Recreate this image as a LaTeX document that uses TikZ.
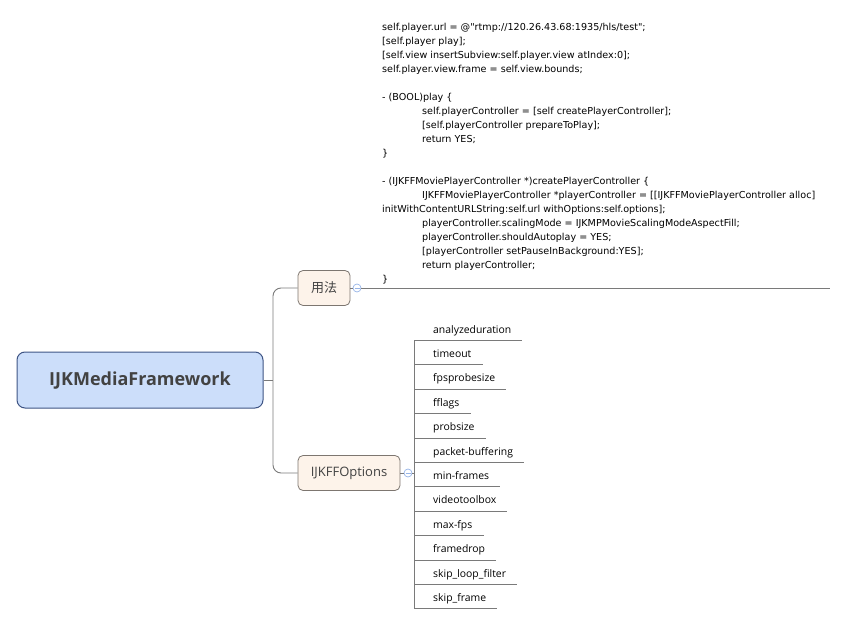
\documentclass[tikz,border=0pt]{standalone}
\usepackage{fontspec}
\setmainfont{Open Sans}
\newfontfamily\cjkfont{Noto Sans CJK SC}
\newfontfamily\notefont{DejaVu Sans}
\usetikzlibrary{positioning}

\definecolor{rootfill}{RGB}{204,222,250}
\definecolor{rootline}{RGB}{62,84,132}
\definecolor{topicfill}{RGB}{253,243,234}
\definecolor{topicline}{RGB}{125,118,112}
\definecolor{textgray}{RGB}{66,66,66}
\definecolor{linkgray}{RGB}{122,122,122}
\definecolor{foldblue}{RGB}{150,180,232}

\begin{document}
\begin{tikzpicture}[x=1pt,y=-1pt,node distance=4pt,
    link/.style={draw=linkgray,line width=0.9pt},
    root node/.style={rectangle,rounded corners=8pt,draw=rootline,line width=1pt,fill=rootfill,
      minimum width=246pt,minimum height=56pt,text=textgray,font=\fontsize{18}{21}\selectfont\bfseries},
    topic node/.style={rectangle,rounded corners=5pt,draw=topicline,line width=0.8pt,fill=topicfill,
      minimum height=35pt,inner xsep=12pt,text=textgray,font=\fontsize{13}{15}\selectfont},
    fold/.style={circle,draw=foldblue,line width=0.7pt,fill=white,minimum size=8pt,inner sep=0pt},
    leaf/.style={inner sep=0pt,minimum height=20pt,text depth=2pt,text=black,
      font=\fontsize{10.4}{12}\selectfont,
      execute at begin node=\hspace*{19pt},execute at end node=\hspace*{11pt}},
    note/.style={inner sep=0pt,align=left,anchor=north west,text=black,font=\notefont\fontsize{9.6}{14}\selectfont}]
  \useasboundingbox (0,0) rectangle (845,620);

  \node[root node,text depth=3pt] (root) at (140,380) {IJKMediaFramework};
  \node[topic node,minimum width=52pt] (usage) at (324,288) {\cjkfont 用法};
  \node[topic node,minimum width=102pt] (opts) at (349,473) {IJKFFOptions};
  \node[fold] (f1) at (357,288) {};
  \node[fold] (f2) at (408,473) {};
  \coordinate (hub) at (273,380);
  \coordinate (noteend) at (830,288);

  % code note of usage
  \node[note] (code) at (382,23) {%
self.player.url = @"rtmp://120.26.43.68:1935/hls/test";\\{}%
[self.player play];\\{}%
[self.view insertSubview:self.player.view atIndex:0];\\
self.player.view.frame = self.view.bounds;\\
\mbox{}\\
- (BOOL)play \{\\
\hspace*{40pt}self.playerController = [self createPlayerController];\\
\hspace*{40pt}[self.playerController prepareToPlay];\\
\hspace*{40pt}return YES;\\
\}\\
\mbox{}\\
- (IJKFFMoviePlayerController *)createPlayerController \{\\
\hspace*{40pt}IJKFFMoviePlayerController *playerController = [[IJKFFMoviePlayerController alloc]\\
initWithContentURLString:self.url withOptions:self.options];\\
\hspace*{40pt}playerController.scalingMode = IJKMPMovieScalingModeAspectFill;\\
\hspace*{40pt}playerController.shouldAutoplay = YES;\\
\hspace*{40pt}[playerController setPauseInBackground:YES];\\
\hspace*{40pt}return playerController;\\
\}};

  % options
  \node[leaf,anchor=north west] (o1) at (414,320) {analyzeduration};
  \node[leaf] (o2) [below=of o1.south west,anchor=north west] {timeout};
  \node[leaf] (o3) [below=of o2.south west,anchor=north west] {fpsprobesize};
  \node[leaf] (o4) [below=of o3.south west,anchor=north west] {fflags};
  \node[leaf] (o5) [below=of o4.south west,anchor=north west] {probsize};
  \node[leaf] (o6) [below=of o5.south west,anchor=north west] {packet-buffering};
  \node[leaf] (o7) [below=of o6.south west,anchor=north west] {min-frames};
  \node[leaf] (o8) [below=of o7.south west,anchor=north west] {videotoolbox};
  \node[leaf] (o9) [below=of o8.south west,anchor=north west] {max-fps};
  \node[leaf] (o10) [below=of o9.south west,anchor=north west] {framedrop};
  \node[leaf] (o11) [below=of o10.south west,anchor=north west] {skip\_loop\_filter};
  \node[leaf] (o12) [below=of o11.south west,anchor=north west] {skip\_frame};

  \draw[link] (root.east) -- (hub);
  \draw[link,rounded corners=8pt] (usage.west) -| (hub) |- (opts.west);
  \draw[link] (usage.east) -- (f1.west);
  \draw[link] (f1.east) -- (noteend);
  \draw[link] (opts.east) -- (f2.west);
  \draw[link] (f2.east) -- (f2.east -| o1.south west);
  \draw[link] (o1.south west) -- (o12.south west);
  \draw[link] (o1.south west) -- (o1.south east);
  \draw[link] (o2.south west) -- (o2.south east);
  \draw[link] (o3.south west) -- (o3.south east);
  \draw[link] (o4.south west) -- (o4.south east);
  \draw[link] (o5.south west) -- (o5.south east);
  \draw[link] (o6.south west) -- (o6.south east);
  \draw[link] (o7.south west) -- (o7.south east);
  \draw[link] (o8.south west) -- (o8.south east);
  \draw[link] (o9.south west) -- (o9.south east);
  \draw[link] (o10.south west) -- (o10.south east);
  \draw[link] (o11.south west) -- (o11.south east);
  \draw[link] (o12.south west) -- (o12.south east);
  \draw[draw=foldblue,line width=0.7pt] ([xshift=-2.5pt]f1.center) -- ([xshift=2.5pt]f1.center);
  \draw[draw=foldblue,line width=0.7pt] ([xshift=-2.5pt]f2.center) -- ([xshift=2.5pt]f2.center);
\end{tikzpicture}
\end{document}
